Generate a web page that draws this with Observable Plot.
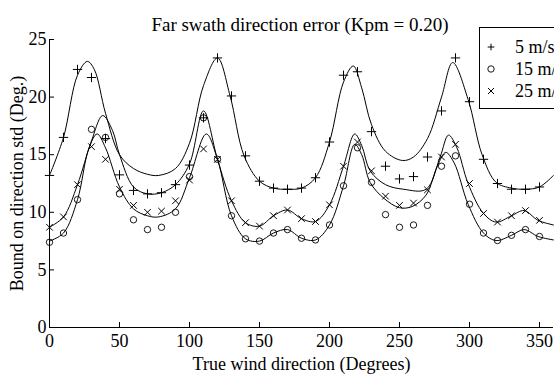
<!DOCTYPE html>
<html><head><meta charset="utf-8">
<script src="https://cdn.jsdelivr.net/npm/d3@7"></script>
<script src="https://cdn.jsdelivr.net/npm/@observablehq/plot@0.6"></script>
<style>
body{margin:0;width:554px;height:375px;overflow:hidden;background:#fff;position:relative;font-family:"Liberation Serif","Times New Roman",serif;color:#000}
#title{position:absolute;left:0;top:15px;width:554px;box-sizing:border-box;padding-left:46px;line-height:19px;font-size:19px;text-align:center;white-space:nowrap}
#chart{padding-top:27px}
#chart svg, #chart svg text{font-family:"Liberation Serif","Times New Roman",serif !important}
#legend{position:absolute;left:479px;top:27px;width:110px;height:82px;border:1px solid #000;background:#fff;box-sizing:border-box}
.row{position:absolute;left:0;width:110px;height:22px;line-height:22px;font-size:18px;white-space:nowrap}
.row svg{position:absolute;left:6px;top:6px}
.row span{position:absolute;left:35px;top:0}
</style></head>
<body>
<div id="chart"></div>
<div id="title">Far swath direction error (Kpm = 0.20)</div>
<div id="legend"></div>
<script>
// ---- data ----
const markerDeg = [0,10,20,30,40,50,60,70,80,90,100,110,120,130,140,150,160,170,180,190,200,210,220,230,240,250,260,270,280,290,300,310,320,330,340,350];
const plus5 = [13.2,16.5,22.4,21.7,16.4,13.25,11.9,11.6,11.7,12.4,14.1,18.2,23.4,20.1,14.9,12.7,12.1,12.0,12.1,13.0,16.1,21.9,22.2,17.0,14.0,12.9,13.1,14.8,18.8,23.4,19.6,14.6,12.5,12.0,12.0,12.2];
const circ15 = [7.4,8.2,11.1,17.2,16.5,11.6,9.35,8.5,8.7,10.0,13.1,18.2,14.6,9.7,7.7,7.5,8.2,8.5,7.75,7.6,8.9,12.3,15.6,12.6,9.8,8.7,8.9,10.6,14.0,14.9,10.7,8.2,7.55,8.0,8.5,7.9];
const cross25 = [8.7,9.6,12.4,15.7,14.6,12.0,10.6,10.0,10.1,11.0,12.8,15.5,14.6,11.0,9.1,8.8,9.7,10.2,9.45,9.2,10.65,14.0,16.1,13.6,11.4,10.6,10.8,11.95,14.8,15.9,12.5,9.9,9.15,9.7,10.15,9.3];

const curveADeg = [0,10,20,27,32,40,50,60,70,78,90,100,110,120,129,139,150,160,170,180,190,200,210,217,223,230,240,252,260,270,280,288,299,309,319,330,340,350,360];
const curveAVal = [13.2,16.5,21.9,23.1,22.4,18.6,15.0,13.8,13.3,13.2,13.8,16.0,21.0,23.4,20.1,14.9,12.7,12.1,12.0,12.1,13.0,16.1,21.3,22.7,20.8,17.6,15.3,14.5,14.8,16.4,20.0,23.0,19.8,15.0,12.6,12.1,12.0,12.2,13.2];
const curveBDeg = [0,10,20,30,38,45,50,60,70,80,90,100,110,120,130,140,150,160,170,180,190,200,210,218,223,229,240,253,269,279,285,291,299,310,319,330,339,349,360];
const curveBVal = [8.7,9.6,12.4,16.2,18.4,17.1,15.0,12.2,11.6,11.7,12.4,14.2,18.8,14.6,11.0,9.1,8.8,9.7,10.2,9.45,9.2,10.65,14.0,16.8,15.8,13.6,12.4,12.0,12.0,14.8,16.7,15.6,12.5,9.9,9.15,9.7,10.15,9.3,8.9];
const curveCDeg = [0,10,20,28,34,40,50,60,70,78,90,100,112,120,130,140,150,160,170,180,190,200,210,218,223,229,239,250,259,269,277,283,289,299,310,319,330,339,349,360];
const curveCVal = [7.5,8.2,11.1,15.5,16.8,15.6,12.2,10.3,9.7,9.6,10.3,13.0,16.8,14.6,9.7,7.7,7.5,8.2,8.5,7.75,7.6,8.9,12.3,15.9,15.0,12.6,11.2,10.4,10.5,11.5,14.0,15.2,14.3,10.7,8.2,7.55,8.0,8.5,7.9,7.6];

const xTicks = [0,50,100,150,200,250,300,350];
const yTicks = [0,5,10,15,20,25];
const seriesNames = ["5 m/s","15 m/s","25 m/s"];
const symbols = ["plus","circle","times"];

// ---- build ----
const toRows = (xs, ys) => xs.map((d,i)=>({deg:d, val:ys[i]}));
const serif = "'Liberation Serif', 'Times New Roman', serif";

const chart = Plot.plot({
  width:554, height:348,
  marginTop:12, marginBottom:48, marginLeft:49, marginRight:1,
  x:{domain:[0,360]},
  y:{domain:[0,25]},
  style:{fontFamily:serif, fontSize:"18px", color:"#000", background:"transparent", overflow:"visible"},
  marks:[
    Plot.ruleY([0], {stroke:"#000", strokeWidth:1}),
    Plot.ruleX([0], {stroke:"#000", strokeWidth:1}),
    Plot.axisX({ticks:xTicks, tickSize:-5, text:null, label:null, stroke:"#000"}),
    Plot.axisY({ticks:yTicks, tickSize:-5, text:null, label:null, stroke:"#000"}),
    Plot.axisX({ticks:xTicks, tickSize:0, tickPadding:7, fontSize:18, label:"True wind direction (Degrees)", labelAnchor:"center", labelArrow:"none", labelOffset:42}),
    Plot.axisY({ticks:yTicks, tickSize:0, tickPadding:3, fontSize:18, label:"Bound on direction std (Deg.)", labelAnchor:"center", labelArrow:"none", labelOffset:39}),
    Plot.line(toRows(curveADeg, curveAVal), {x:"deg", y:"val", curve:"catmull-rom", stroke:"#000", strokeWidth:1}),
    Plot.line(toRows(curveBDeg, curveBVal), {x:"deg", y:"val", curve:"catmull-rom", stroke:"#000", strokeWidth:1}),
    Plot.line(toRows(curveCDeg, curveCVal), {x:"deg", y:"val", curve:"catmull-rom", stroke:"#000", strokeWidth:1}),
    Plot.dot(toRows(markerDeg, plus5), {x:"deg", y:"val", symbol:"plus", r:3.1, stroke:"#000", strokeWidth:1}),
    Plot.dot(toRows(markerDeg, circ15), {x:"deg", y:"val", symbol:"circle", r:3.2, stroke:"#000", fill:"none", strokeWidth:0.9}),
    Plot.dot(toRows(markerDeg, cross25), {x:"deg", y:"val", symbol:"times", r:3.1, stroke:"#000", strokeWidth:1})
  ]
});
document.getElementById("chart").appendChild(chart);

// legend
const leg = document.getElementById("legend");
const symPath = {
  plus:"M-3.3,0H3.3M0,-3.3V3.3",
  times:"M-3,-3L3,3M-3,3L3,-3"
};
seriesNames.forEach((name,i)=>{
  const row = document.createElement("div");
  row.className = "row";
  row.style.top = (8 + i*22) + "px";
  const s = symbols[i];
  const inner = s === "circle"
    ? '<circle cx="5" cy="5" r="3.2" fill="none" stroke="#000" stroke-width="0.9"/>'
    : '<path transform="translate(5,5)" d="'+symPath[s]+'" stroke="#000" stroke-width="1" fill="none"/>';
  row.innerHTML = '<svg width="10" height="10">'+inner+'</svg><span>'+name+'</span>';
  leg.appendChild(row);
});
</script>
</body></html>
